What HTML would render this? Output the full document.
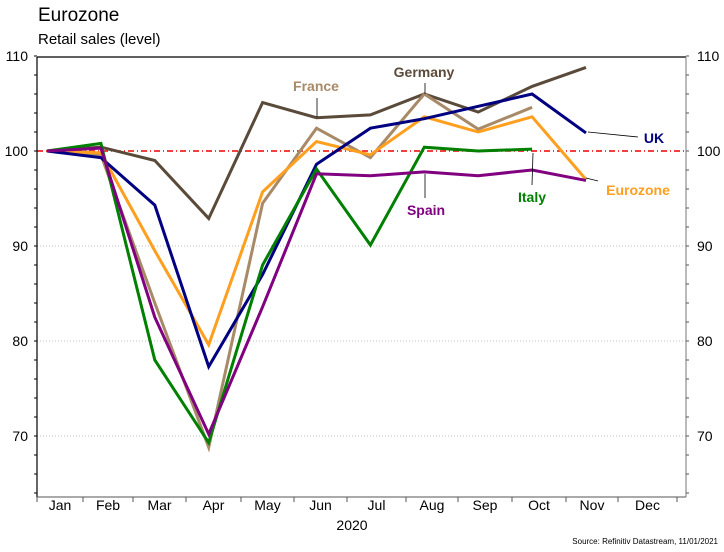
<!DOCTYPE html>
<html><head><meta charset="utf-8"><style>
body{margin:0;background:#fff;font-family:"Liberation Sans",Arial,sans-serif}
svg text{font-family:"Liberation Sans",Arial,sans-serif}
</style></head><body>
<svg id="c" width="724" height="547" xmlns="http://www.w3.org/2000/svg">
<text x="38" y="21" font-size="19" fill="#000">Eurozone</text>
<text x="38" y="44" font-size="15" fill="#000">Retail sales (level)</text>
<text x="352" y="530" font-size="14" text-anchor="middle">2020</text>
<text x="718" y="544" font-size="8" text-anchor="end">Source: Refinitiv Datastream, 11/01/2021</text>
<g id="grid"></g><g id="axes"></g><g id="lines"></g><g id="labels"></g>
</svg>
<script>
const months=["Jan","Feb","Mar","Apr","May","Jun","Jul","Aug","Sep","Oct","Nov","Dec"];
const yTicks=[70,80,90,100,110];
const germany=[100,100.4,99.0,92.9,105.1,103.5,103.8,106.0,104.1,106.8,108.8];
const france=[100,99.6,84.0,68.8,94.5,102.4,99.3,106.0,102.3,104.6];
const eurozone=[100,99.8,89.5,79.6,95.7,101.0,99.6,103.6,102.0,103.6,97.0];
const uk=[100,99.3,94.3,77.3,87.0,98.6,102.4,103.4,104.7,106.0,101.9];
const italy=[100,100.8,78.0,69.3,88.0,98.1,90.1,100.4,100.0,100.2];
const spain=[100,100.3,82.5,70.2,83.6,97.6,97.4,97.8,97.4,98.0,96.9];
const NS="http://www.w3.org/2000/svg";
const L=37,R=686,T=57,B=497;
const y=v=>151-(v-100)*9.5;
const x=i=>47+i*53.9;
const tickX=[37,83,133,186,241,294,347,406,458,512,566,618,677];
function mk(t,a,p){const e=document.createElementNS(NS,t);for(const k in a)e.setAttribute(k,a[k]);p.appendChild(e);return e;}
const g=document.getElementById('grid'),ax=document.getElementById('axes'),ln=document.getElementById('lines'),lb=document.getElementById('labels');
yTicks.forEach(v=>{if(v===100||v===110)return;const l=mk('line',{x1:L,x2:R,y1:y(v),y2:y(v),stroke:'#aaa','stroke-width':0.8,'stroke-dasharray':'1,2'},g);

});
const ref=mk('line',{x1:L,x2:R,y1:y(100),y2:y(100),stroke:'#e00','stroke-width':1.6,'stroke-dasharray':'6,3,1,3'},g);


mk('line',{x1:L,x2:R,y1:T,y2:T,stroke:'#000','stroke-width':1.2},ax);
mk('line',{x1:L,x2:L,y1:T,y2:B,stroke:'#000','stroke-width':1.2},ax);
mk('line',{x1:L,x2:R,y1:B,y2:B,stroke:'#555','stroke-width':1},ax);
mk('line',{x1:R,x2:R,y1:T,y2:B,stroke:'#777','stroke-width':1},ax);
for(let v=64;v<=110;v+=2){const yy=y(v);if(yy<T-1||yy>B)continue;
mk('line',{x1:L-3,x2:L,y1:yy,y2:yy,stroke:'#000'},ax);mk('line',{x1:R,x2:R+3,y1:yy,y2:yy,stroke:'#555'},ax);}
yTicks.forEach(v=>{const a=mk('text',{x:28,y:y(v)+5,'font-size':14,'text-anchor':'end'},ax);a.textContent=v;


const b=mk('text',{x:697,y:y(v)+5,'font-size':14},ax);b.textContent=v;

});
tickX.forEach(t=>mk('line',{x1:t,x2:t,y1:B,y2:B+5,stroke:'#555'},ax));
months.forEach((m,i)=>{const t=mk('text',{x:(tickX[i]+tickX[i+1])/2,y:510,'font-size':14,'text-anchor':'middle'},ax);t.textContent=m;

});
const series=[["germany",germany,"#5a4a3a"],["france",france,"#a88a68"],["eurozone",eurozone,"#ff9f1f"],["uk",uk,"#000080"],["italy",italy,"#008000"],["spain",spain,"#800080"]];
series.forEach(([n,d,c])=>{const p=mk('polyline',{points:d.map((v,i)=>x(i)+','+y(v)).join(' '),fill:'none',stroke:c,'stroke-width':3,'stroke-linejoin':'miter'},ln);

});
const labs=[["France",316,91,"#a88a68",317,98,317,117],["Germany",424,77,"#5a4a3a",425,83,425,94],["UK",654,143,"#000080",588,132,638,137],["Eurozone",638,195,"#ff9f1f",586,178,598,181],["Spain",426,215,"#800080",425,174,425,198],["Italy",532,202,"#008000",533,153,532,185]];
labs.forEach(([t,tx,ty,c,x1,y1,x2,y2])=>{const l=mk('line',{x1,y1,x2,y2,stroke:'#000','stroke-width':0.8},lb);


const e=mk('text',{x:tx,y:ty,'font-size':14,'font-weight':'bold',fill:c,'text-anchor':'middle'},lb);e.textContent=t;

});
</script>
</body></html>
